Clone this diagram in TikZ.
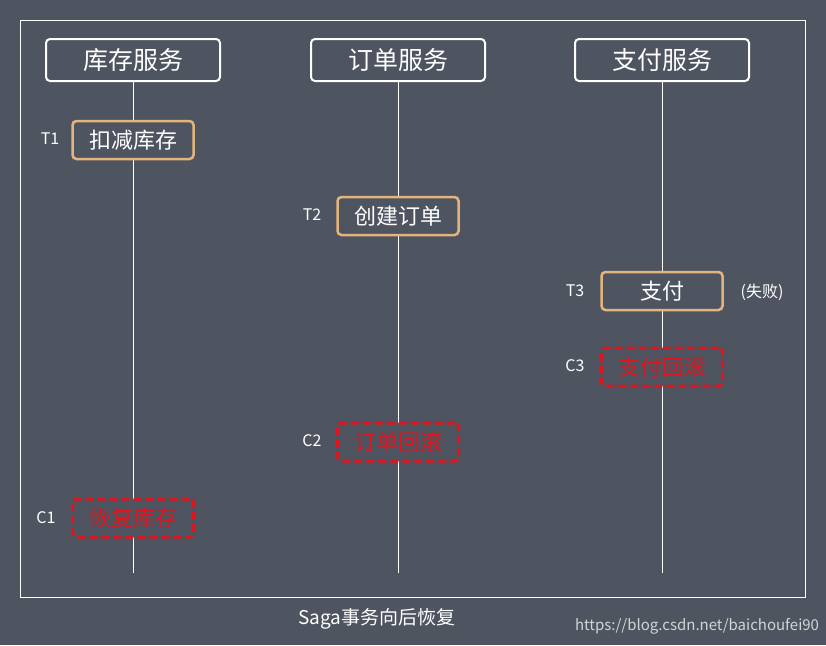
\documentclass[tikz,border=0pt]{standalone}
\usepackage{fontspec}
\setmainfont{Noto Sans CJK SC}
\definecolor{bg}{HTML}{4F5461}
\definecolor{tan}{HTML}{E3B47C}
\definecolor{rd}{HTML}{E0141C}
\begin{document}
\begin{tikzpicture}[x=1pt,y=-1pt,
  hdr/.style={draw=white,line width=2pt,rounded corners=4pt,minimum width=174pt,minimum height=42pt,text=white,font=\fontsize{25}{28}\selectfont,fill=bg},
  tbox/.style={draw=tan,line width=2.5pt,rounded corners=4pt,minimum width=121pt,minimum height=38pt,text=white,font=\fontsize{22}{24}\selectfont,fill=bg},
  cbox/.style={draw=rd,line width=3pt,dash pattern=on 8pt off 4pt,rounded corners=4pt,minimum width=121pt,minimum height=38pt,text=rd,font=\fontsize{22}{24}\selectfont,fill=bg},
  lab/.style={text=white,font=\fontsize{16}{18}\selectfont},
  lifeline/.style={draw=white,line width=0.8pt}]
\fill[bg] (0,0) rectangle (826,645);
\useasboundingbox (0,0) rectangle (826,645);
\draw[white,line width=0.8pt] (20,20) rectangle (805,597);
\coordinate (e1) at (133,573);
\coordinate (e2) at (398,573);
\coordinate (e3) at (662,573);
\node[hdr] (h1) at (133,60) {库存服务};
\node[hdr] (h2) at (398,60) {订单服务};
\node[hdr] (h3) at (662,60) {支付服务};
\draw[lifeline] (h1) -- (e1);
\draw[lifeline] (h2) -- (e2);
\draw[lifeline] (h3) -- (e3);
\node[tbox] (t1) at (133,140) {扣减库存};
\node[tbox] (t2) at (398,216) {创建订单};
\node[tbox] (t3) at (662,291) {支付};
\node[cbox] (c3) at (662,367) {支付回滚};
\node[cbox] (c2) at (398,442) {订单回滚};
\node[cbox] (c1) at (133,518) {恢复库存};
\node[lab] (lt1) at (50,139) {T1};
\node[lab] (lt2) at (312,215) {T2};
\node[lab] (lt3) at (575,291) {T3};
\node[lab] (lc3) at (575,366) {C3};
\node[lab] (lc2) at (312,441) {C2};
\node[lab] (lc1) at (46,518) {C1};
\node[lab] (fail) at (762,292) {(失败)};
\node[text=white,font=\fontsize{19}{21}\selectfont] (cap) at (377,619) {Saga事务向后恢复};
\node[text=white!75!bg,font=\fontsize{15}{17}\selectfont] (wm) at (697,626) {https://blog.csdn.net/baichoufei90};
\end{tikzpicture}
\end{document}
